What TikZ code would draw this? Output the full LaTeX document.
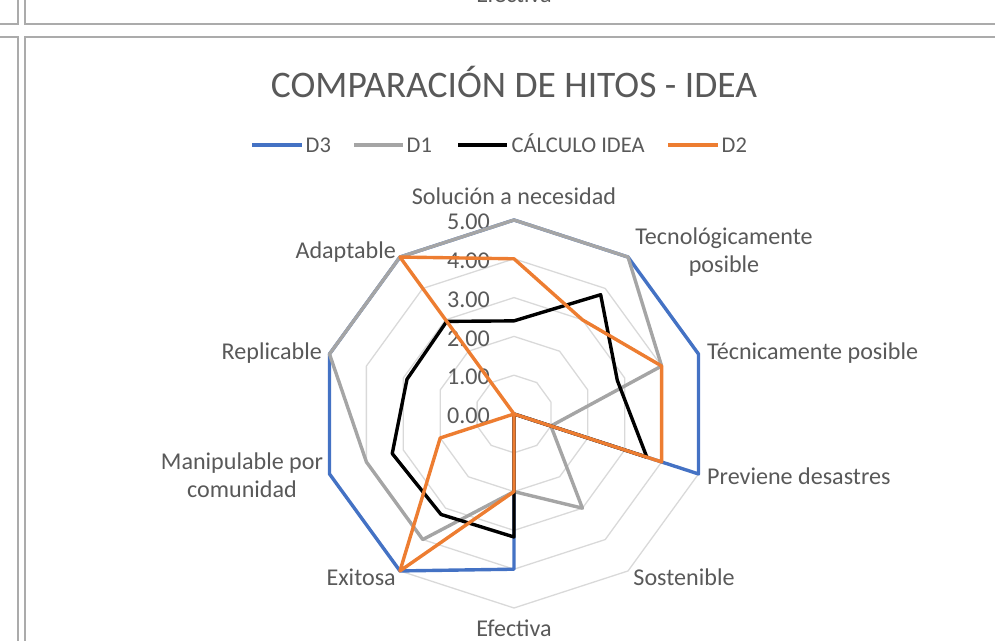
\documentclass[tikz,border=0pt]{standalone}
\usepackage{fontspec}
\setmainfont{Carlito}
\definecolor{colD3}{HTML}{4472C4}
\definecolor{colD1}{HTML}{A5A5A5}
\definecolor{colCI}{HTML}{000000}
\definecolor{colD2}{HTML}{ED7D31}
\definecolor{txtgris}{HTML}{595959}
\definecolor{rejgris}{HTML}{D9D9D9}
\definecolor{margris}{HTML}{ABABAB}
\newcommand{\unidad}{38.8}
\tikzset{
  marco/.style={margris, line width=1.6bp},
  rejilla/.style={rejgris, line width=1.3bp, line join=round},
  serie/.style={line width=3.4bp, line join=round},
  etiq/.style={inner sep=0pt, text=txtgris},
  ley/.style={etiq, anchor=base west, yshift=-7.2bp, font=\fontsize{22.5bp}{27bp}\selectfont},
}

\begin{document}
\begin{tikzpicture}[x=1bp, y=1bp, font=\fontsize{24.1bp}{28bp}\selectfont]
    \useasboundingbox (0,0) rectangle (995,641);
    \clip (0,0) rectangle (995,641);

    % marcos de los graficos
    \draw[marco] (18,641) -- (18,617) -- (0,617);
    \draw[marco] (25,641) -- (25,617) -- (995,617);
    \draw[marco] (0,604) -- (18,604) -- (18,0);
    \draw[marco] (995,604) -- (25,604) -- (25,0);
    \node[etiq, anchor=base] (efecarriba) at (514,638) {Efectiva};

    % titulo
    \node[etiq, font=\fontsize{37.5bp}{44bp}\selectfont] (titulo) at (514,559) {COMPARACIÓN DE HITOS - IDEA};

    % leyenda
    \draw[serie, colD3] (252,496) -- (302,496) node[ley, xshift=2bp] (leyD3) {D3};
    \draw[serie, colD1] (354,496) -- (403,496) node[ley, xshift=2bp] (leyD1) {D1};
    \draw[serie, colCI] (458,496) -- (507,496) node[ley, xshift=3bp] (leyCI) {CÁLCULO IDEA};
    \draw[serie, colD2] (668,496) -- (718,496) node[ley, xshift=2bp] (leyD2) {D2};

    \begin{scope}[shift={(514,227)}]
    % rejilla
    \foreach \r in {1,...,5}
      \draw[rejilla] (90:\r*\unidad) \foreach \a in {1,...,9}{ -- (90-36*\a:\r*\unidad)} -- cycle;

    % escala
    \foreach \r in {0,...,5}
      \node[etiq, anchor=east] (val\r) at (-24,\r*\unidad-2) {\r.00};

    % series
    \foreach \s/\vals in {D3/{5,5,5,5,0,4,5,5,5,5},
                          D1/{5,5,4,1,3,2,4,4,5,5},
                          CI/{2.4,3.8,2.8,3.6,0,3.17,3.2,3.3,2.9,2.95},
                          D2/{4,3,4,4,0,2,5,2,0,5}} {
      \foreach \v [count=\k] in \vals
        \coordinate (\s-\k) at (126-36*\k:\v*\unidad);
      \draw[serie, col\s] (\s-1) \foreach \k in {2,...,10}{ -- (\s-\k)} -- cycle;
    }
    \end{scope}

    % ejes
    \node[etiq, anchor=base] (sol) at (514,436.4) {Solución a necesidad};
    \node[etiq, align=center, anchor=base] (tecno) at (724,368.4) {Tecnológicamente\\posible};
    \node[etiq, anchor=base west] (tecni) at (707,281.4) {Técnicamente posible};
    \node[etiq, anchor=base west] (prev) at (707,156.4) {Previene desastres};
    \node[etiq, anchor=base] (sost) at (684,55.4) {Sostenible};
    \node[etiq, anchor=base] (efec) at (514,4.5) {Efectiva};
    \node[etiq, anchor=base east] (exit) at (396,55.4) {Exitosa};
    \node[etiq, align=center, anchor=base] (manip) at (242,143.4) {Manipulable por\\comunidad};
    \node[etiq, anchor=base east] (repl) at (322,281.4) {Replicable};
    \node[etiq, anchor=base east] (adap) at (396,382.4) {Adaptable};

  \end{tikzpicture}
\end{document}
